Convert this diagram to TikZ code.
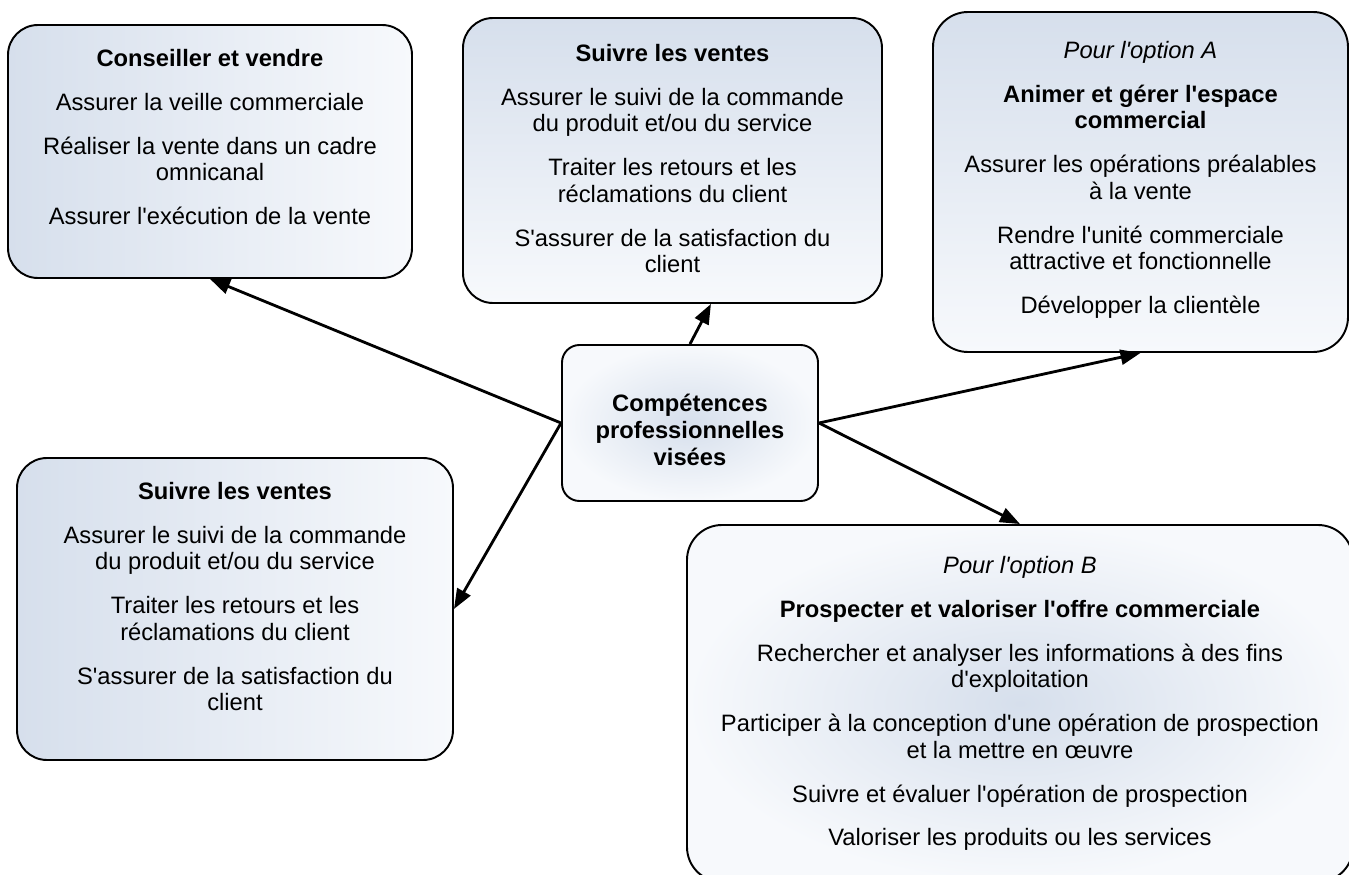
\documentclass[tikz,border=0pt]{standalone}
\usepackage{fontspec}
\setmainfont{Liberation Sans}[Ligatures=TeXOff]
\usetikzlibrary{positioning,arrows.meta}
\definecolor{shadeblue}{RGB}{214,223,236}
\definecolor{shadelight}{RGB}{247,249,252}

\begin{document}
\begin{tikzpicture}[box/.style={draw,line width=1.1pt,rounded corners=0.6cm,inner sep=0pt},
vshade/.style={top color=shadeblue,bottom color=shadelight},
hshade/.style={left color=shadeblue,right color=shadelight},
rshade/.style={inner color=shadeblue,outer color=shadelight},
txt/.style={align=center,inner sep=0pt,font=\fontsize{13.5}{15}\selectfont},
link/.style={line width=1.6pt,-{Triangle[length=0.4cm,width=0.3cm]}}]
\useasboundingbox (0,0) rectangle (26.98,17.48);
\clip (0,0) rectangle (26.98,17.48);

\node[box,hshade,minimum width=8.08cm,minimum height=5.06cm] (conseil) at (4.20,14.45) {};
\node[box,vshade,minimum width=8.38cm,minimum height=5.70cm] (suivi) at (13.45,14.27) {};
\node[box,vshade,rounded corners=0.7cm,minimum width=8.30cm,minimum height=6.80cm] (optA) at (22.81,13.84) {};
\node[box,rshade,rounded corners=0.35cm,minimum width=5.12cm,minimum height=3.12cm] (comp) at (13.80,9.02) {};
\node[box,hshade,minimum width=8.72cm,minimum height=6.04cm] (suivi2) at (4.70,5.30) {};
\node[box,rshade,rounded corners=0.7cm,minimum width=13.32cm,minimum height=7.14cm] (optB) at (20.40,3.41) {};

\node[txt,below=0.5cm of conseil.north] (conseilT) {\textbf{Conseiller et vendre}\\[10pt]
Assurer la veille commerciale\\[10pt]
Réaliser la vente dans un cadre\\omnicanal\\[10pt]
Assurer l'exécution de la vente};
\node[txt,below=0.54cm of suivi.north] (suiviT) {\textbf{Suivre les ventes}\\[10pt]
Assurer le suivi de la commande\\du produit et/ou du service\\[10pt]
Traiter les retours et les\\réclamations du client\\[10pt]
S'assurer de la satisfaction du\\client};
\node[txt,below=0.6cm of optA.north] (optAT) {\textit{Pour l'option A}\\[10pt]
\textbf{Animer et gérer l'espace}\\\textbf{commercial}\\[10pt]
Assurer les opérations préalables\\à la vente\\[10pt]
Rendre l'unité commerciale\\attractive et fonctionnelle\\[10pt]
Développer la clientèle};
\node[txt,font=\fontsize{13.5}{15.5}\selectfont\bfseries] (compT) at ([yshift=-0.14cm]comp.center) {Compétences\\professionnelles\\visées};
\node[txt,below=0.5cm of suivi2.north] (suivi2T) {\textbf{Suivre les ventes}\\[10pt]
Assurer le suivi de la commande\\du produit et/ou du service\\[10pt]
Traiter les retours et les\\réclamations du client\\[10pt]
S'assurer de la satisfaction du\\client};
\node[txt,below=0.64cm of optB.north] (optBT) {\textit{Pour l'option B}\\[10pt]
\textbf{Prospecter et valoriser l'offre commerciale}\\[10pt]
Rechercher et analyser les informations à des fins\\d'exploitation\\[10pt]
Participer à la conception d'une opération de prospection\\et la mettre en œuvre\\[10pt]
Suivre et évaluer l'opération de prospection\\[10pt]
Valoriser les produits ou les services};

% liens depuis le centre
\draw[link] (comp.west) -- (conseil.south);
\draw[link] (comp.north) -- (suivi.-75);
\draw[link] (comp.east) -- (optA.south);
\draw[link] (comp.west) -- (suivi2.east);
\draw[link] (comp.east) -- (optB.north);
\end{tikzpicture}
\end{document}
